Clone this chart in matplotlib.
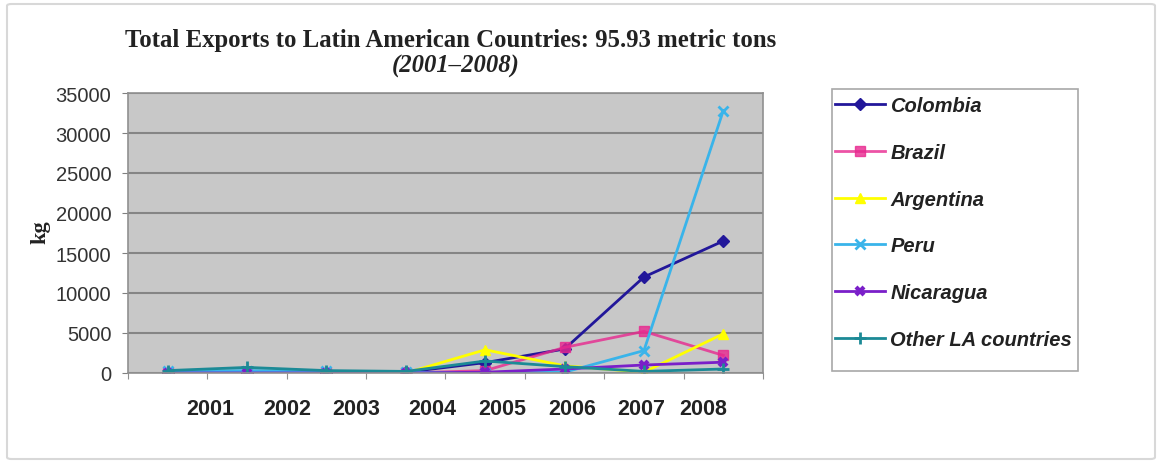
import numpy as np
import matplotlib.pyplot as plt
from matplotlib.patches import FancyBboxPatch, Rectangle

years = ['2001', '2002', '2003', '2004', '2005', '2006', '2007', '2008']

colombia = [0, 0, 0, 100, 1300, 3000, 12000, 16500]
brazil = [0, 0, 0, 0, 300, 3200, 5200, 2200]
argentina = [0, 0, 0, 0, 2900, 900, 100, 4900]
peru = [200, 300, 200, 100, 0, 100, 2800, 32800]
nicaragua = [0, 0, 0, 0, 100, 500, 1000, 1350]
other_la = [300, 700, 300, 200, 1500, 800, 200, 500]

series = [
    ('Colombia', colombia, '#22179a', 'D', 6, 1.0),
    ('Brazil', brazil, '#e8288f', 's', 7, 0.8),
    ('Argentina', argentina, '#ffff00', '^', 7, 1.0),
    ('Peru', peru, '#39b4ea', 'x', 7, 1.0),
    ('Nicaragua', nicaragua, '#7a1fc9', 'x', 6, 1.0),
    ('Other LA countries', other_la, '#1c8a96', '+', 8, 1.0),
]

# label centres (they do not sit under the points)
label_x = [0.54, 1.50, 2.37, 3.33, 4.21, 5.09, 5.96, 6.75]

W, H = 1161, 464
fig = plt.figure(figsize=(W / 100, H / 100), dpi=100)
fig.patches.append(FancyBboxPatch((7 / W, 4 / H), 1148 / W, 455 / H,
                                  boxstyle='round,pad=0,rounding_size=0.004',
                                  transform=fig.transFigure, fc='white',
                                  ec='#d8d8d8', lw=1.5, zorder=-10))

ax = fig.add_axes([128 / W, 1 - 374 / H, 635 / W, 280 / H])
ax.set_facecolor('#c8c8c8')

x = np.arange(len(years))
for name, vals, col, mk, ms, alpha in series:
    mew = 2 if mk in ('x', '+') else 1
    if name == 'Nicaragua':
        mew = 3
    ax.plot(x, vals, color=col, marker=mk, markersize=ms, lw=2, mew=mew,
            label=name, alpha=alpha, solid_joinstyle='round')

ax.set_xlim(-0.5, 7.5)
ax.set_ylim(0, 35000)
ax.set_yticks(np.arange(0, 35001, 5000))
ax.yaxis.grid(True, color='#858585', lw=1.5)
ax.set_axisbelow(True)
ax.tick_params(axis='y', labelsize=14.5, length=4, color='#808080',
               labelcolor='#333333', pad=8)
for t in ax.get_yticklabels():
    t.set_family('Liberation Sans')

ax.xaxis.remove_overlapping_locs = False
ax.set_xticks(np.arange(-0.5, 7.6, 1))
ax.set_xticklabels([])
ax.set_xticks(label_x, years, minor=True)
ax.tick_params(axis='x', which='major', length=4, color='#909090')
ax.tick_params(axis='x', which='minor', length=0, pad=18, labelsize=15.5,
               labelcolor='#222222')
for t in ax.get_xticklabels(minor=True):
    t.set_fontweight('bold')
    t.set_family('Liberation Sans')

for s in ax.spines.values():
    s.set_color('#909090')
    s.set_linewidth(1.2)

fig.text(40 / W, 1 - 232 / H, 'kg', rotation=90, ha='center', va='center',
         family='Liberation Serif', fontweight='bold', fontsize=16,
         color='#222222')

fig.text(451 / W, 1 - 41 / H,
         'Total Exports to Latin American Countries: 95.93 metric tons',
         ha='center', va='center', family='Liberation Serif',
         fontweight='bold', fontsize=17.8, color='#222222')
fig.text(456 / W, 1 - 66 / H, '(2001\u20132008)', ha='center',
         va='center', family='Liberation Serif', fontweight='bold',
         style='italic', fontsize=17.8, color='#222222')

fig.patches.append(Rectangle((832 / W, 1 - 372 / H), 246 / W, 282 / H,
                             transform=fig.transFigure, fc='white',
                             ec='#a8a8a8', lw=1.2))
leg = fig.legend(loc='upper left', bbox_to_anchor=(832 / W, 1 - 94 / H),
                 frameon=False, prop={'family': 'Liberation Sans',
                                      'size': 14.5, 'weight': 'bold',
                                      'style': 'italic'},
                 labelspacing=1.38, handlelength=2.5, handletextpad=0.25,
                 borderpad=0.15, borderaxespad=0)
for t in leg.get_texts():
    t.set_color('#222222')

fig.savefig('out.png', dpi=100)
